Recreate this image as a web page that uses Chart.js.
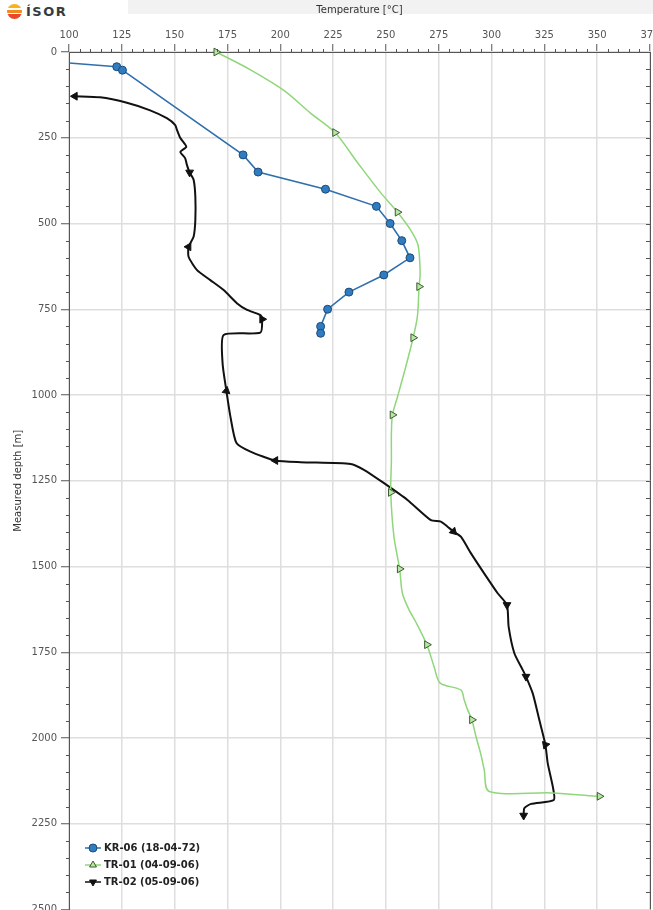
<!DOCTYPE html>
<html>
<head>
<meta charset="utf-8">
<script src="https://cdn.jsdelivr.net/npm/chart.js@4.4.1/dist/chart.umd.min.js"></script>
<style>
  html, body { margin: 0; padding: 0; background: #fff; overflow: hidden; }
  #wrap { position: relative; width: 653px; height: 910px; overflow: hidden; }
  #band { position: absolute; left: 128px; top: 0; width: 525px; height: 14px; background: #f2f2f2; }
  #logo { position: absolute; left: 7px; top: 4px; display: flex; align-items: center;
          font: bold 13px "DejaVu Sans", sans-serif; color: #3a3a3a; letter-spacing: 1.5px; }
  #logo .dot { width: 15px; height: 15px; border-radius: 50%; margin-right: 4px;
          background: linear-gradient(to bottom, #f9b21c 0 30%, #fff 30% 38%, #f38a1c 38% 62%, #fff 62% 70%, #e9482a 70% 100%); }
  #freqChart { position: absolute; left: 0; top: 0; }
</style>
</head>
<body>
<div id="wrap">
  <div id="band"></div>
  <div id="logo"><span class="dot"></span>ÍSOR</div>
  <canvas id="freqChart" width="680" height="940"></canvas>
</div>
<script>
// KR-06 (18-04-72)
const kr06Temp  = [100, 122.6, 125.3, 182.4, 189.5, 221.4, 245.5, 252.0, 257.5, 261.4, 249.0, 232.5, 222.4, 219.1, 219.1];
const kr06Depth = [32, 43, 53, 300, 350, 400, 450, 500, 550, 600, 650, 700, 750, 800, 820];

// TR-01 (04-09-06)
const tr01Temp  = [169.7, 185.9, 201.7, 214.3, 225.9, 236.5, 247.5, 255.5, 261.8, 265.2, 266.2, 265.7, 264.9, 262.9,
                   258.6, 255.5, 253.1, 252.6, 252.6, 252.3, 253.8, 256.5, 257.8, 261.0, 264.1, 269.4, 272.8, 275.7,
                   285.5, 287.0, 288.7, 290.7, 292.6, 295.0, 296.5, 298.9, 328.2, 351.1];
const tr01Depth = [0, 52, 112, 178, 235, 322, 410, 467, 520, 563, 645, 684, 771, 833,
                   936, 1005, 1058, 1112, 1190, 1284, 1413, 1507, 1578, 1627, 1661, 1728, 1792, 1840,
                   1860, 1888, 1918, 1947, 1995, 2049, 2092, 2156, 2160, 2170];

// TR-02 (05-09-06)
const tr02Temp  = [102.8, 114.7, 127.4, 138.4, 146.3, 150.3, 151.1, 152.7, 155.5, 152.7, 155.0, 155.8, 157.1, 159.0,
                   159.8, 159.8, 159.0, 156.6, 156.6, 160.6, 166.9, 173.2, 179.6, 184.3, 190.6, 191.4, 190.6, 173.2,
                   172.7, 174.5, 176.4, 179.2, 185.9, 197.7, 209.6, 233.3, 239.6, 249.1, 260.2, 271.3, 276.0, 279.2,
                   282.0, 285.5, 290.2, 296.5, 302.9, 307.3, 308.1, 310.8, 314.8, 316.3, 319.5, 322.6, 325.5, 326.6,
                   329.0, 329.5, 318.7, 315.5, 315.2];
const tr02Depth = [129, 132, 148, 170, 193, 213, 227, 251, 276, 291, 310, 329, 351, 373,
                   422, 490, 538, 568, 597, 636, 665, 694, 733, 752, 767, 779, 818, 825,
                   908, 988, 1063, 1139, 1165, 1191, 1196, 1201, 1218, 1257, 1306, 1365, 1369, 1384,
                   1398, 1413, 1461, 1520, 1578, 1612, 1676, 1753, 1802, 1821, 1870, 1947, 2020, 2074,
                   2142, 2181, 2192, 2205, 2226];

const seriesLabels = ['KR-06 (18-04-72)', 'TR-01 (04-09-06)', 'TR-02 (05-09-06)'];

// marker placement / orientation
const tr01Marks = [0, 4, 7, 11, 13, 16, 19, 21, 25, 31, 37];
const tr02Marks = { 0: 270, 12: 180, 17: 270, 25: 90, 29: 250, 33: 270, 42: 135, 47: 180, 51: 180, 54: 200, 60: 180 };

const toXY = (xs, ys) => xs.map((v, i) => ({ x: v, y: ys[i] }));
const FONT = '"DejaVu Sans", sans-serif';

const extras = {
  id: 'extras',
  afterDraw(chart) {
    const { ctx, scales: { x, y }, chartArea: a } = chart;
    ctx.save();
    ctx.strokeStyle = '#555';
    ctx.lineWidth = 1;
    ctx.beginPath();
    for (let t = 100; t <= 375; t += 5) {
      if (t % 25 === 0) continue;
      const px = Math.round(x.getPixelForValue(t)) + 0.5;
      ctx.moveTo(px, a.top); ctx.lineTo(px, a.top - 3);
    }
    for (let d = 0; d <= 2500; d += 50) {
      const py = Math.round(y.getPixelForValue(d)) + 0.5;
      if (d % 250 !== 0) { ctx.moveTo(a.left, py); ctx.lineTo(a.left - 3, py); }
      ctx.moveTo(a.right, py); ctx.lineTo(a.right - 4, py);
    }
    ctx.moveTo(Math.round(a.right) + 0.5, a.top);
    ctx.lineTo(Math.round(a.right) + 0.5, a.bottom);
    ctx.stroke();

    // legend
    const rows = [848, 865, 882];
    const rot = [0, 0, 180];
    chart.data.datasets.forEach((ds, i) => {
      const yy = rows[i];
      ctx.strokeStyle = ds.borderColor;
      ctx.lineWidth = 1.5;
      ctx.beginPath(); ctx.moveTo(85, yy); ctx.lineTo(101, yy); ctx.stroke();
      ctx.fillStyle = ds.pointBackgroundColor;
      ctx.strokeStyle = ds.pointBorderColor;
      ctx.lineWidth = 1;
      Chart.helpers.drawPoint(ctx, { pointStyle: ds.pointStyle, radius: 4, rotation: rot[i], borderWidth: 1 }, 93, yy);
      ctx.fillStyle = '#222';
      ctx.font = 'bold 10px ' + FONT;
      ctx.textBaseline = 'middle';
      ctx.fillText(seriesLabels[i], 104, yy + 0.5);
    });
    ctx.restore();
  }
};

new Chart(document.getElementById('freqChart'), {
  type: 'scatter',
  data: {
    datasets: [
      {
        label: seriesLabels[0],
        data: toXY(kr06Temp, kr06Depth),
        showLine: true,
        borderColor: '#2f6fae',
        borderWidth: 1.6,
        pointStyle: 'circle',
        pointBackgroundColor: '#2f7cc0',
        pointBorderColor: '#1c4a78',
        pointBorderWidth: 1,
        pointRadius: kr06Temp.map((v, i) => i === 0 ? 0 : 4),
        clip: false
      },
      {
        label: seriesLabels[1],
        data: toXY(tr01Temp, tr01Depth),
        showLine: true,
        tension: 0.3,
        borderColor: '#8fd77a',
        borderWidth: 1.5,
        pointStyle: 'triangle',
        pointRotation: 90,
        pointBackgroundColor: '#b8e6a4',
        pointBorderColor: '#3d5c33',
        pointBorderWidth: 1,
        pointRadius: tr01Temp.map((v, i) => tr01Marks.includes(i) ? 4.5 : 0),
        clip: false
      },
      {
        label: seriesLabels[2],
        data: toXY(tr02Temp, tr02Depth),
        showLine: true,
        tension: 0.2,
        borderColor: '#111111',
        borderWidth: 2,
        pointStyle: 'triangle',
        pointRotation: tr02Temp.map((v, i) => tr02Marks[i] || 0),
        pointBackgroundColor: '#111111',
        pointBorderColor: '#111111',
        pointBorderWidth: 1,
        pointRadius: tr02Temp.map((v, i) => (i in tr02Marks) ? 4.5 : 0),
        clip: false
      }
    ]
  },
  options: {
    responsive: false,
    animation: false,
    layout: { padding: { left: 0, top: 0, right: 30, bottom: 30.5 } },
    plugins: { legend: { display: false }, tooltip: { enabled: false } },
    scales: {
      x: {
        type: 'linear',
        position: 'top',
        min: 100,
        max: 375,
        ticks: { stepSize: 25, color: '#555', font: { family: FONT, size: 10 }, padding: 3, maxRotation: 0 },
        grid: { color: '#dedede', lineWidth: 1.5, tickLength: 8, tickColor: '#555', tickWidth: 1 },
        border: { color: '#555', width: 1 },
        title: { display: true, text: 'Temperature [°C]', color: '#333', font: { family: FONT, size: 10 }, padding: { top: 4, bottom: 0 } },
        afterFit(s) { s.height = 52; }
      },
      y: {
        type: 'linear',
        reverse: true,
        min: 0,
        max: 2500,
        ticks: { stepSize: 250, color: '#555', font: { family: FONT, size: 10 }, padding: 4, format: { useGrouping: false } },
        grid: { color: '#dedede', lineWidth: 1.5, tickLength: 8, tickColor: '#555', tickWidth: 1 },
        border: { color: '#555', width: 1 },
        title: { display: true, text: 'Measured depth [m]', color: '#333', font: { family: FONT, size: 10 }, padding: { top: 12, bottom: 0 } },
        afterFit(s) { s.width = 69; }
      }
    }
  },
  plugins: [extras]
});
</script>
</body>
</html>
